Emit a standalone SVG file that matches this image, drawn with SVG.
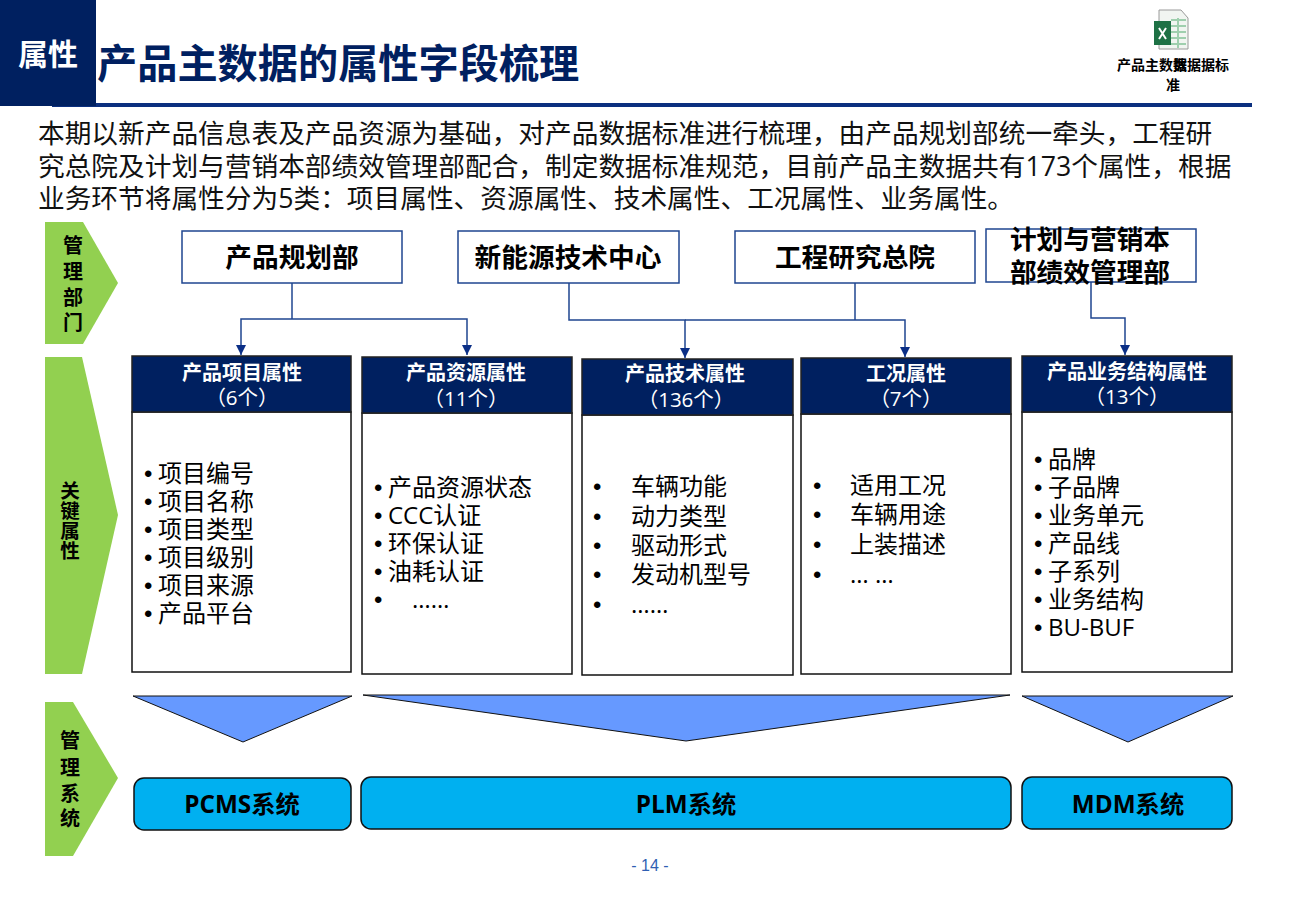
<svg xmlns="http://www.w3.org/2000/svg" width="1300" height="900" viewBox="0 0 1300 900">
<style>
text{font-family:"Open Sans","Noto Sans CJK SC",sans-serif;fill:#000}
.b{font-weight:700}
.m{text-anchor:middle}
.top{font-size:26.7px;font-weight:700;text-anchor:middle}
.tb{fill:#fff;stroke:#1F4690;stroke-width:1.5}
.hd{fill:#002060;stroke:#222;stroke-width:1.5}
.bd{fill:#fff;stroke:#111;stroke-width:1.5}
.ht{font-size:20px;font-weight:700;fill:#fff;text-anchor:middle}
.hc{font-size:20.5px;fill:#fff;text-anchor:middle}
.li{font-size:24px;fill:#000}
.bu{font-size:24px;font-family:"Liberation Sans",sans-serif}
.ar{fill:#92D050}
.al{font-size:20px;font-weight:700;text-anchor:middle}
.al2{font-size:19.5px;font-weight:700;text-anchor:middle}
.tr{fill:#6699FF;stroke:#111;stroke-width:1}
.sy{fill:#00B0F0;stroke:#111;stroke-width:1.5}
.st{font-size:24.3px;font-weight:700;text-anchor:middle}
.cn{fill:none;stroke:#1F4690;stroke-width:1.5}
.in{font-size:26.7px;fill:#111}
.ex{font-size:14px;font-weight:700}
</style>
<defs><marker id="a" markerWidth="11" markerHeight="10" refX="10" refY="5" orient="auto" markerUnits="userSpaceOnUse"><path d="M0 0L10 5L0 10Z" fill="#0B2F86"/></marker></defs>
<g id="header">
<rect x="52" y="103" width="1200" height="4" fill="#0B2F7F"/>
<rect x="0" y="0" width="96" height="106" fill="#002060"/>
<text x="48" y="65" class="b m" font-size="30" style="fill:#fff">属性</text>
<text x="97" y="78" class="b" font-size="40.2" style="fill:#002060">产品主数据的属性字段梳理</text>
</g>
<g id="excel-icon">
<path d="M1159 10H1181L1188 18V49H1159Z" fill="#f1f5f1" stroke="#9a9a9a"/>
<path d="M1171 20H1186M1171 26H1186M1171 32H1186M1171 38H1186M1171 44H1186M1178 18V48" stroke="#9fcfae" stroke-width="2" fill="none"/>
<rect x="1154" y="21" width="17" height="24" fill="#1E7145"/>
<path d="M1159 28L1166 39M1166 28L1159 39" stroke="#fff" stroke-width="2"/>
<text class="ex" x="1117" y="70">产品主数据</text>
<text class="ex" x="1173" y="70">数据</text>
<text class="ex" x="1201" y="70">据标</text>
<text class="ex m" x="1173" y="90">准</text>
</g>
<g id="intro">
<text class="in" x="38" y="143">本期以新产品信息表及产品资源为基础，对产品数据标准进行梳理，由产品规划部统一牵头，工程研</text>
<text class="in" x="38" y="176">究总院及计划与营销本部绩效管理部配合，制定数据标准规范，目前产品主数据共有173个属性，根据</text>
<text class="in" x="38" y="208">业务环节将属性分为5类：项目属性、资源属性、技术属性、工况属性、业务属性。</text>
</g>
<g id="connectors">
<path class="cn" d="M292 283V319"/>
<path class="cn" d="M292 319H241V355" marker-end="url(#a)"/>
<path class="cn" d="M292 319H467V355" marker-end="url(#a)"/>
<path class="cn" d="M569 283V320H685V358" marker-end="url(#a)"/>
<path class="cn" d="M685 320H905V357" marker-end="url(#a)"/>
<path class="cn" d="M855 283V320"/>
<path class="cn" d="M1091 282V318H1125V355" marker-end="url(#a)"/>
</g>
<g id="arrow-dept"><path class="ar" d="M45 222H83L118 283L83 344H45Z"/>
<text class="al" x="73" y="253">管</text><text class="al" x="73" y="279">理</text><text class="al" x="73" y="305">部</text><text class="al" x="73" y="330">门</text></g>
<g id="arrow-attr"><path class="ar" d="M45 357H82L118 515L82 674H45Z"/>
<text class="al2" x="70" y="498">关</text><text class="al2" x="70" y="518">键</text><text class="al2" x="70" y="538">属</text><text class="al2" x="70" y="558">性</text></g>
<g id="arrow-sys"><path class="ar" d="M45 702H73L118 778L73 856H45Z"/>
<text class="al" x="70" y="748">管</text><text class="al" x="70" y="775">理</text><text class="al" x="70" y="801">系</text><text class="al" x="70" y="826">统</text></g>
<g id="dept1"><rect class="tb" x="182" y="231" width="220" height="52"/><text class="top" x="292" y="267">产品规划部</text></g>
<g id="dept2"><rect class="tb" x="458" y="231" width="221" height="52"/><text class="top" x="568" y="267">新能源技术中心</text></g>
<g id="dept3"><rect class="tb" x="735" y="231" width="240" height="52"/><text class="top" x="855" y="267">工程研究总院</text></g>
<g id="dept4"><rect class="tb" x="986" y="229" width="210" height="53"/><text class="top" x="1090" y="249">计划与营销本</text><text class="top" x="1090" y="282">部绩效管理部</text></g>
<g id="card1"><rect class="bd" x="132" y="412" width="219" height="260"/><rect class="hd" x="132" y="356" width="219" height="56"/>
<text class="ht" x="242" y="380">产品项目属性</text><text class="hc" x="242" y="405">（6个）</text>
<text class="bu" x="144" y="482">•</text><text class="li" x="158" y="482">项目编号</text><text class="bu" x="144" y="510">•</text><text class="li" x="158" y="510">项目名称</text><text class="bu" x="144" y="538">•</text><text class="li" x="158" y="538">项目类型</text><text class="bu" x="144" y="566">•</text><text class="li" x="158" y="566">项目级别</text><text class="bu" x="144" y="594">•</text><text class="li" x="158" y="594">项目来源</text><text class="bu" x="144" y="622">•</text><text class="li" x="158" y="622">产品平台</text></g>
<g id="card2"><rect class="bd" x="362" y="413" width="210" height="261"/><rect class="hd" x="362" y="357" width="210" height="56"/>
<text class="ht" x="466" y="380">产品资源属性</text><text class="hc" x="466" y="406">（11个）</text>
<text class="bu" x="374" y="496">•</text><text class="li" x="388" y="496">产品资源状态</text><text class="bu" x="374" y="524">•</text><text class="li" x="388" y="524">CCC认证</text><text class="bu" x="374" y="552">•</text><text class="li" x="388" y="552">环保认证</text><text class="bu" x="374" y="580">•</text><text class="li" x="388" y="580">油耗认证</text><text class="bu" x="374" y="608">•</text><text class="li" x="412" y="608">……</text></g>
<g id="card3"><rect class="bd" x="582" y="415" width="211" height="260"/><rect class="hd" x="582" y="359" width="211" height="56"/>
<text class="ht" x="685" y="381">产品技术属性</text><text class="hc" x="686" y="407">（136个）</text>
<text class="bu" x="593" y="495">•</text><text class="li" x="631" y="495">车辆功能</text><text class="bu" x="593" y="525">•</text><text class="li" x="631" y="525">动力类型</text><text class="bu" x="593" y="554">•</text><text class="li" x="631" y="554">驱动形式</text><text class="bu" x="593" y="583">•</text><text class="li" x="631" y="583">发动机型号</text><text class="bu" x="593" y="613">•</text><text class="li" x="631" y="613">……</text></g>
<g id="card4"><rect class="bd" x="801" y="414" width="210" height="260"/><rect class="hd" x="801" y="358" width="210" height="56"/>
<text class="ht" x="906" y="381">工况属性</text><text class="hc" x="906" y="406">（7个）</text>
<text class="bu" x="813" y="494">•</text><text class="li" x="850" y="494">适用工况</text><text class="bu" x="813" y="523">•</text><text class="li" x="850" y="523">车辆用途</text><text class="bu" x="813" y="553">•</text><text class="li" x="850" y="553">上装描述</text><text class="bu" x="813" y="583">•</text><text class="li" x="850" y="583">… …</text></g>
<g id="card5"><rect class="bd" x="1022" y="412" width="210" height="260"/><rect class="hd" x="1022" y="356" width="210" height="56"/>
<text class="ht" x="1127" y="379">产品业务结构属性</text><text class="hc" x="1127" y="404">（13个）</text>
<text class="bu" x="1034" y="468">•</text><text class="li" x="1048" y="468">品牌</text><text class="bu" x="1034" y="496">•</text><text class="li" x="1048" y="496">子品牌</text><text class="bu" x="1034" y="524">•</text><text class="li" x="1048" y="524">业务单元</text><text class="bu" x="1034" y="552">•</text><text class="li" x="1048" y="552">产品线</text><text class="bu" x="1034" y="580">•</text><text class="li" x="1048" y="580">子系列</text><text class="bu" x="1034" y="608">•</text><text class="li" x="1048" y="608">业务结构</text><text class="bu" x="1034" y="636">•</text><text class="li" x="1048" y="636">BU-BUF</text></g>
<g id="funnels"><path class="tr" d="M133 696H352L243 742Z"/><path class="tr" d="M363 695H1010L686 741Z"/><path class="tr" d="M1022 696H1233L1128 742Z"/></g>
<g id="sys1"><rect class="sy" x="134" y="778" width="217" height="52" rx="10"/><text class="st" x="242" y="813">PCMS系统</text></g>
<g id="sys2"><rect class="sy" x="361" y="777" width="650" height="52" rx="10"/><text class="st" x="686" y="813">PLM系统</text></g>
<g id="sys3"><rect class="sy" x="1022" y="777" width="210" height="52" rx="10"/><text class="st" x="1128" y="813">MDM系统</text></g>
<text x="650" y="871" font-size="16" class="m" style="fill:#2F5FB3;font-family:'Liberation Sans',sans-serif">- 14 -</text>
</svg>
